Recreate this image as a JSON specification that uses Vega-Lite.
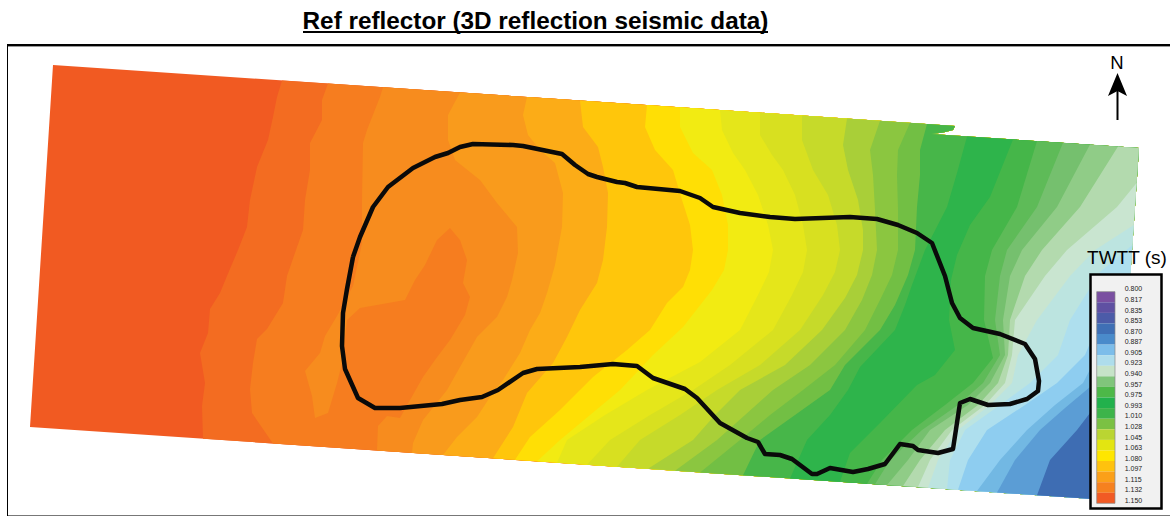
{"$schema":"https://vega.github.io/schema/vega-lite/v6.json","width":1170,"height":516,"padding":0,"autosize":{"type":"none"},"background":"white","config":{"view":{"stroke":null}},"projection":{"type":"identity","scale":1,"translate":[0,0]},"resolve":{"scale":{"color":"independent"}},"layer":[
{"data":{"values":[
{"type":"Feature","properties":{"band":"b00"},"geometry":{"type":"Polygon","coordinates":[[[53,65],[558,99],[955,126],[953,130],[943,132.5],[931,134],[1139,148],[1115,500.5],[30,427],[53,65]]]}},
{"type":"Feature","properties":{"band":"b01"},"geometry":{"type":"Polygon","coordinates":[[[282,80.4],[277,97],[273,117],[268,140],[257,167],[250,200],[247,227],[238,250],[227,276],[220,293],[210,309],[208,333],[200,353],[205,383],[202,406],[203,438.7],[1115,500.5],[1139,148],[931,134],[943,132.5],[953,130],[955,126],[558,99],[282,80.4]]]}},
{"type":"Feature","properties":{"band":"b02"},"geometry":{"type":"Polygon","coordinates":[[[328,83.5],[322,100],[322,120],[310,143],[310,170],[305,200],[303,230],[296,250],[287,276],[283,303],[267,329],[257,339],[253,363],[250,389],[252,413],[273,443.4],[1115,500.5],[1139,148],[931,134],[943,132.5],[953,130],[955,126],[558,99],[328,83.5]]]}},
{"type":"Feature","properties":{"band":"b03"},"geometry":{"type":"Polygon","coordinates":[[[383,87.2],[380,97],[367,130],[363,143],[362,200],[362,243],[353,286],[337,316],[325,336],[320,353],[305,371],[312,396],[315,418],[328,413],[337,383],[342,363],[347,320],[360,308],[405,300],[415,280],[425,265],[437,240],[450,228],[460,240],[467,260],[463,283],[470,297],[465,315],[450,340],[435,360],[423,377],[410,400],[400,418],[387,416],[378,426],[377,450.5],[1115,500.5],[1139,148],[931,134],[943,132.5],[953,130],[955,126],[558,99],[383,87.2]]]}},
{"type":"Feature","properties":{"band":"b04"},"geometry":{"type":"Polygon","coordinates":[[[460,92.4],[448,115],[448,140],[455,160],[480,180],[497,203],[517,227],[518,253],[512,280],[507,297],[497,317],[477,337],[460,367],[447,390],[423,420],[413,443],[412,452.9],[1115,500.5],[1139,148],[931,134],[943,132.5],[953,130],[955,126],[558,99],[460,92.4]]]}},
{"type":"Feature","properties":{"band":"b05"},"geometry":{"type":"Polygon","coordinates":[[[527,96.9],[523,115],[528,135],[540,150],[555,163],[563,193],[562,227],[555,265],[547,293],[540,313],[530,330],[520,353],[503,380],[490,397],[477,417],[457,437],[443,455],[1115,500.5],[1139,148],[931,134],[943,132.5],[953,130],[955,126],[558,99],[527,96.9]]]}},
{"type":"Feature","properties":{"band":"b06"},"geometry":{"type":"Polygon","coordinates":[[[580,100.5],[583,127],[598,147],[603,167],[608,193],[607,227],[603,260],[597,283],[580,310],[567,337],[553,363],[527,393],[513,427],[493,458.3],[1115,500.5],[1139,148],[931,134],[943,132.5],[953,130],[955,126],[580,100.5]]]}},
{"type":"Feature","properties":{"band":"b07"},"geometry":{"type":"Polygon","coordinates":[[[647,105],[645,127],[655,150],[673,170],[682,200],[690,225],[693,250],[690,270],[683,287],[667,303],[650,330],[627,350],[593,377],[580,390],[560,410],[530,437],[515,459.8],[1115,500.5],[1139,148],[931,134],[943,132.5],[953,130],[955,126],[647,105]]]}},
{"type":"Feature","properties":{"band":"b08"},"geometry":{"type":"Polygon","coordinates":[[[680,107.2],[680,127],[693,153],[712,170],[722,195],[728,225],[728,250],[724,270],[712,290],[683,327],[653,355],[620,390],[590,415],[560,440],[537,461.3],[1115,500.5],[1139,148],[931,134],[943,132.5],[953,130],[955,126],[680,107.2]]]}},
{"type":"Feature","properties":{"band":"b09"},"geometry":{"type":"Polygon","coordinates":[[[720,109.9],[722,130],[733,153],[745,170],[758,195],[768,225],[773,250],[769,272],[758,295],[740,330],[700,362],[647,390],[605,415],[567,440],[557,462.7],[1115,500.5],[1139,148],[931,134],[943,132.5],[953,130],[955,126],[720,109.9]]]}},
{"type":"Feature","properties":{"band":"b10"},"geometry":{"type":"Polygon","coordinates":[[[760,112.6],[760,135],[772,155],[783,170],[795,195],[803,225],[807,250],[803,272],[792,295],[773,330],[730,365],[693,390],[650,415],[610,440],[587,464.7],[1115,500.5],[1139,148],[931,134],[943,132.5],[953,130],[955,126],[760,112.6]]]}},
{"type":"Feature","properties":{"band":"b11"},"geometry":{"type":"Polygon","coordinates":[[[802,115.5],[802,140],[813,170],[828,195],[837,225],[840,250],[835,272],[823,295],[800,330],[760,365],[717,390],[680,415],[640,440],[617,466.7],[1115,500.5],[1139,148],[931,134],[943,132.5],[953,130],[955,126],[802,115.5]]]}},
{"type":"Feature","properties":{"band":"b12"},"geometry":{"type":"Polygon","coordinates":[[[847,118.5],[843,145],[848,170],[858,200],[863,230],[863,250],[857,275],[845,298],[822,330],[785,365],[740,390],[715,415],[693,440],[648,468.8],[1115,500.5],[1139,148],[931,134],[943,132.5],[953,130],[955,126],[847,118.5]]]}},
{"type":"Feature","properties":{"band":"b13"},"geometry":{"type":"Polygon","coordinates":[[[880,120.7],[870,150],[873,175],[875,210],[877,250],[872,275],[862,300],[845,330],[810,365],[773,390],[745,415],[717,440],[675,470.7],[1115,500.5],[1139,148],[931,134],[943,132.5],[953,130],[955,126],[880,120.7]]]}},
{"type":"Feature","properties":{"band":"b14"},"geometry":{"type":"Polygon","coordinates":[[[910,122.8],[898,150],[897,175],[898,210],[898,250],[892,275],[880,300],[865,330],[835,365],[803,390],[770,415],[740,440],[700,472.4],[1115,500.5],[1139,148],[931,134],[943,132.5],[953,130],[955,126],[910,122.8]]]}},
{"type":"Feature","properties":{"band":"b15"},"geometry":{"type":"Polygon","coordinates":[[[927,124],[920,150],[920,175],[917,207],[915,250],[908,275],[895,305],[880,330],[845,365],[830,390],[795,415],[760,440],[743,475.3],[1115,500.5],[1139,148],[931,134],[943,132.5],[953,130],[955,126],[927,124]]]}},
{"type":"Feature","properties":{"band":"b16"},"geometry":{"type":"Polygon","coordinates":[[[967,136.4],[957,173],[947,207],[925,250],[912,285],[905,305],[895,330],[860,367],[848,390],[830,415],[807,440],[790,478.5],[1115,500.5],[1139,148],[967,136.4]]]}},
{"type":"Feature","properties":{"band":"b17"},"geometry":{"type":"Polygon","coordinates":[[[1013,139.5],[990,197],[970,225],[957,255],[951,280],[949,320],[955,350],[935,375],[917,385],[880,423],[850,453],[840,481.8],[1115,500.5],[1139,148],[1013,139.5]]]}},
{"type":"Feature","properties":{"band":"b18"},"geometry":{"type":"Polygon","coordinates":[[[1037,141.1],[1017,207],[992,250],[985,276],[984,320],[993,358],[973,383],[945,405],[912,430],[882,460],[867,483.7],[1115,500.5],[1139,148],[1037,141.1]]]}},
{"type":"Feature","properties":{"band":"b19"},"geometry":{"type":"Polygon","coordinates":[[[1063,142.8],[1037,207],[1007,250],[1000,276],[995,320],[1000,355],[983,383],[958,405],[922,430],[890,460],[875,484.2],[1115,500.5],[1139,148],[1063,142.8]]]}},
{"type":"Feature","properties":{"band":"b20"},"geometry":{"type":"Polygon","coordinates":[[[1090,144.6],[1057,207],[1022,250],[1010,276],[1003,320],[1005,355],[990,383],[968,405],[930,430],[908,460],[887,485],[1115,500.5],[1139,148],[1090,144.6]]]}},
{"type":"Feature","properties":{"band":"b21"},"geometry":{"type":"Polygon","coordinates":[[[1118,146.5],[1080,207],[1042,250],[1025,276],[1010,320],[1008,355],[998,383],[978,405],[945,430],[920,460],[903,486.1],[1115,500.5],[1139,148],[1118,146.5]]]}},
{"type":"Feature","properties":{"band":"b22"},"geometry":{"type":"Polygon","coordinates":[[[1136.6,183],[1117,207],[1067,250],[1045,276],[1015,320],[1012,355],[1005,383],[985,405],[952,430],[930,460],[918,487.1],[1115,500.5],[1136.6,183]]]}},
{"type":"Feature","properties":{"band":"b23"},"geometry":{"type":"Polygon","coordinates":[[[1133.8,225],[1095,250],[1070,276],[1037,320],[1018,355],[1012,383],[990,405],[958,430],[938,460],[928,487.8],[1115,500.5],[1133.8,225]]]}},
{"type":"Feature","properties":{"band":"b24"},"geometry":{"type":"Polygon","coordinates":[[[1132.4,245],[1100,272],[1070,320],[1058,355],[1030,383],[1000,405],[965,430],[950,460],[947,489.1],[1115,500.5],[1132.4,245]]]}},
{"type":"Feature","properties":{"band":"b25"},"geometry":{"type":"Polygon","coordinates":[[[1128.6,300],[1100,320],[1085,355],[1057,383],[1025,405],[987,430],[968,460],[958,489.8],[1115,500.5],[1128.6,300]]]}},
{"type":"Feature","properties":{"band":"b26"},"geometry":{"type":"Polygon","coordinates":[[[1126.5,330],[1095,360],[1083,383],[1055,405],[1027,430],[1000,460],[977,491.1],[1115,500.5],[1126.5,330]]]}},
{"type":"Feature","properties":{"band":"b27"},"geometry":{"type":"Polygon","coordinates":[[[1124.5,360],[1090,387],[1065,408],[1040,430],[1015,460],[997,492.5],[1115,500.5],[1124.5,360]]]}},
{"type":"Feature","properties":{"band":"b28"},"geometry":{"type":"Polygon","coordinates":[[[1122,395],[1090,413],[1077,430],[1050,460],[1037,495.2],[1115,500.5],[1122,395]]]}}
]},"mark":{"type":"geoshape","strokeWidth":0},"encoding":{"color":{"field":"properties.band","type":"nominal","legend":null,"scale":{"domain":["b00","b01","b02","b03","b04","b05","b06","b07","b08","b09","b10","b11","b12","b13","b14","b15","b16","b17","b18","b19","b20","b21","b22","b23","b24","b25","b26","b27","b28"],"range":["#F15A22","#F36C21","#F67D1F","#F78C1E","#F99B1C","#FCAC17","#FFC60B","#FFDF05","#F2EB12","#E5E61A","#D8E020","#C6DA2A","#A9CF38","#8BC640","#72BF44","#47B649","#2EB44B","#45B649","#5EBB58","#75C06E","#90CC87","#B3DAAE","#C9E5D0","#BCE4E0","#AEDFEE","#8ECDF0","#72B8E3","#5B9DD5","#3E6DB3"]}}}},
{"data":{"values":[{"type":"Feature","properties":{"name":"outline"},"geometry":{"type":"LineString","coordinates":[[353,257],[347,289],[343,313],[342,346],[345,369],[358,398],[375,408],[400,408],[442,404],[460,400],[482,397],[498,390],[523,373],[537,369],[580,367],[613,364],[637,366],[653,378],[685,389],[697,398],[720,423],[747,438],[758,442],[765,454],[780,455],[792,459],[812,474],[817,474],[830,468],[853,472],[868,469],[885,464],[900,444],[913,446],[918,450],[938,453],[953,449],[960,403],[970,399],[988,405],[1010,404],[1027,399],[1038,391],[1039,381],[1035,359],[1025,344],[1000,334],[973,328],[960,318],[952,303],[945,276],[932,243],[917,233],[898,225],[877,219],[850,217],[795,219],[770,217],[740,213],[713,207],[700,198],[680,191],[637,187],[625,183],[617,182],[597,177],[588,174],[575,165],[562,154],[523,146],[513,145],[473,144],[460,147],[448,153],[435,157],[413,168],[388,187],[373,207],[360,237],[353,257]]}}]},"mark":{"type":"geoshape","filled":false,"stroke":"#0a0a0a","strokeWidth":4.5,"strokeJoin":"round"}},
{"data":{"values":[{"type":"Feature","properties":{"name":"rule shadow"},"geometry":{"type":"LineString","coordinates":[[8,46.5],[1170,46.5]]}}]},"mark":{"type":"geoshape","filled":false,"stroke":"#999999","strokeWidth":1}},
{"data":{"values":[{"type":"Feature","properties":{"name":"top rule"},"geometry":{"type":"LineString","coordinates":[[7,45],[1170,45]]}}]},"mark":{"type":"geoshape","filled":false,"stroke":"black","strokeWidth":2}},
{"data":{"values":[{"type":"Feature","properties":{"name":"frame bottom"},"geometry":{"type":"LineString","coordinates":[[8,515.5],[1170,515.5]]}}]},"mark":{"type":"geoshape","filled":false,"stroke":"#777777","strokeWidth":1}},
{"data":{"values":[{"type":"Feature","properties":{"name":"frame left"},"geometry":{"type":"LineString","coordinates":[[7.5,44],[7.5,516]]}}]},"mark":{"type":"geoshape","filled":false,"stroke":"black","strokeWidth":1}},
{"data":{"values":[{"type":"Feature","properties":{"name":"title underline"},"geometry":{"type":"LineString","coordinates":[[303,32],[768,32]]}}]},"mark":{"type":"geoshape","filled":false,"stroke":"black","strokeWidth":2}},
{"data":{"values":[{"label":"Ref reflector (3D reflection seismic data)","lon":535.5,"lat":29}]},"mark":{"type":"text","font":"Liberation Sans","fontWeight":"bold","fontSize":24.3,"align":"center","baseline":"alphabetic","color":"black"},"encoding":{"longitude":{"field":"lon","type":"quantitative"},"latitude":{"field":"lat","type":"quantitative"},"text":{"field":"label"}}},
{"data":{"values":[{"label":"N","lon":1117,"lat":68.5}]},"mark":{"type":"text","font":"Liberation Sans","fontSize":18.5,"align":"center","baseline":"alphabetic","color":"black"},"encoding":{"longitude":{"field":"lon","type":"quantitative"},"latitude":{"field":"lat","type":"quantitative"},"text":{"field":"label"}}},
{"data":{"values":[{"type":"Feature","properties":{"name":"arrow head"},"geometry":{"type":"Polygon","coordinates":[[[1117.5,73],[1108,96],[1117.5,91],[1127,96],[1117.5,73]]]}}]},"mark":{"type":"geoshape","fill":"black","strokeWidth":0}},
{"data":{"values":[{"type":"Feature","properties":{"name":"arrow shaft"},"geometry":{"type":"LineString","coordinates":[[1117.5,90],[1117.5,120]]}}]},"mark":{"type":"geoshape","filled":false,"stroke":"black","strokeWidth":2}},
{"data":{"values":[{"label":"TWTT (s)","lon":1127,"lat":263.5}]},"mark":{"type":"text","font":"Liberation Sans","fontSize":19,"align":"center","baseline":"alphabetic","color":"black"},"encoding":{"longitude":{"field":"lon","type":"quantitative"},"latitude":{"field":"lat","type":"quantitative"},"text":{"field":"label"}}},
{"data":{"values":[{"type":"Feature","properties":{"name":"legend box"},"geometry":{"type":"Polygon","coordinates":[[[1090.5,274.5],[1161.5,274.5],[1161.5,508.5],[1090.5,508.5],[1090.5,274.5]]]}}]},"mark":{"type":"geoshape","fill":"#F1F1F1","stroke":"black","strokeWidth":2.5}},
{"data":{"values":[
{"type":"Feature","properties":{"twtt":"0.800"},"geometry":{"type":"Polygon","coordinates":[[[1096.7,291.7],[1115,291.7],[1115,302.3],[1096.7,302.3],[1096.7,291.7]]]}},
{"type":"Feature","properties":{"twtt":"0.817"},"geometry":{"type":"Polygon","coordinates":[[[1096.7,302.3],[1115,302.3],[1115,312.9],[1096.7,312.9],[1096.7,302.3]]]}},
{"type":"Feature","properties":{"twtt":"0.835"},"geometry":{"type":"Polygon","coordinates":[[[1096.7,312.9],[1115,312.9],[1115,323.4],[1096.7,323.4],[1096.7,312.9]]]}},
{"type":"Feature","properties":{"twtt":"0.853"},"geometry":{"type":"Polygon","coordinates":[[[1096.7,323.4],[1115,323.4],[1115,334],[1096.7,334],[1096.7,323.4]]]}},
{"type":"Feature","properties":{"twtt":"0.870"},"geometry":{"type":"Polygon","coordinates":[[[1096.7,334],[1115,334],[1115,344.6],[1096.7,344.6],[1096.7,334]]]}},
{"type":"Feature","properties":{"twtt":"0.887"},"geometry":{"type":"Polygon","coordinates":[[[1096.7,344.6],[1115,344.6],[1115,355.2],[1096.7,355.2],[1096.7,344.6]]]}},
{"type":"Feature","properties":{"twtt":"0.905"},"geometry":{"type":"Polygon","coordinates":[[[1096.7,355.2],[1115,355.2],[1115,365.8],[1096.7,365.8],[1096.7,355.2]]]}},
{"type":"Feature","properties":{"twtt":"0.923"},"geometry":{"type":"Polygon","coordinates":[[[1096.7,365.8],[1115,365.8],[1115,376.4],[1096.7,376.4],[1096.7,365.8]]]}},
{"type":"Feature","properties":{"twtt":"0.940"},"geometry":{"type":"Polygon","coordinates":[[[1096.7,376.4],[1115,376.4],[1115,386.9],[1096.7,386.9],[1096.7,376.4]]]}},
{"type":"Feature","properties":{"twtt":"0.957"},"geometry":{"type":"Polygon","coordinates":[[[1096.7,386.9],[1115,386.9],[1115,397.5],[1096.7,397.5],[1096.7,386.9]]]}},
{"type":"Feature","properties":{"twtt":"0.975"},"geometry":{"type":"Polygon","coordinates":[[[1096.7,397.5],[1115,397.5],[1115,408.1],[1096.7,408.1],[1096.7,397.5]]]}},
{"type":"Feature","properties":{"twtt":"0.993"},"geometry":{"type":"Polygon","coordinates":[[[1096.7,408.1],[1115,408.1],[1115,418.7],[1096.7,418.7],[1096.7,408.1]]]}},
{"type":"Feature","properties":{"twtt":"1.010"},"geometry":{"type":"Polygon","coordinates":[[[1096.7,418.7],[1115,418.7],[1115,429.3],[1096.7,429.3],[1096.7,418.7]]]}},
{"type":"Feature","properties":{"twtt":"1.028"},"geometry":{"type":"Polygon","coordinates":[[[1096.7,429.3],[1115,429.3],[1115,439.9],[1096.7,439.9],[1096.7,429.3]]]}},
{"type":"Feature","properties":{"twtt":"1.045"},"geometry":{"type":"Polygon","coordinates":[[[1096.7,439.9],[1115,439.9],[1115,450.4],[1096.7,450.4],[1096.7,439.9]]]}},
{"type":"Feature","properties":{"twtt":"1.063"},"geometry":{"type":"Polygon","coordinates":[[[1096.7,450.4],[1115,450.4],[1115,461],[1096.7,461],[1096.7,450.4]]]}},
{"type":"Feature","properties":{"twtt":"1.080"},"geometry":{"type":"Polygon","coordinates":[[[1096.7,461],[1115,461],[1115,471.6],[1096.7,471.6],[1096.7,461]]]}},
{"type":"Feature","properties":{"twtt":"1.097"},"geometry":{"type":"Polygon","coordinates":[[[1096.7,471.6],[1115,471.6],[1115,482.2],[1096.7,482.2],[1096.7,471.6]]]}},
{"type":"Feature","properties":{"twtt":"1.115"},"geometry":{"type":"Polygon","coordinates":[[[1096.7,482.2],[1115,482.2],[1115,492.8],[1096.7,492.8],[1096.7,482.2]]]}},
{"type":"Feature","properties":{"twtt":"1.132"},"geometry":{"type":"Polygon","coordinates":[[[1096.7,492.8],[1115,492.8],[1115,503.3],[1096.7,503.3],[1096.7,492.8]]]}}
]},"mark":{"type":"geoshape","strokeWidth":0},"encoding":{"color":{"field":"properties.twtt","type":"nominal","legend":null,"scale":{"domain":["0.800","0.817","0.835","0.853","0.870","0.887","0.905","0.923","0.940","0.957","0.975","0.993","1.010","1.028","1.045","1.063","1.080","1.097","1.115","1.132"],"range":["#7A4FA1","#5F50A2","#4C5BA8","#3F6FB5","#4A8BCB","#7CBDEA","#AEDDEC","#C6E3C8","#80C57B","#4DB848","#22B14C","#3DB44A","#7BC143","#BAD532","#E3E511","#FFE600","#FFC20E","#FBA019","#F6811F","#F15A24"]}}}},
{"data":{"values":[{"type":"Feature","properties":{"name":"colour bar edge"},"geometry":{"type":"Polygon","coordinates":[[[1096.7,291.7],[1115,291.7],[1115,503.3],[1096.7,503.3],[1096.7,291.7]]]}}]},"mark":{"type":"geoshape","filled":false,"stroke":"#888888","strokeWidth":0.7}},
{"data":{"values":[{"t":"0.800","lon":1124.7,"lat":289.3},{"t":"0.817","lon":1124.7,"lat":299.9},{"t":"0.835","lon":1124.7,"lat":310.5},{"t":"0.853","lon":1124.7,"lat":321},{"t":"0.870","lon":1124.7,"lat":331.6},{"t":"0.887","lon":1124.7,"lat":342.2},{"t":"0.905","lon":1124.7,"lat":352.8},{"t":"0.923","lon":1124.7,"lat":363.4},{"t":"0.940","lon":1124.7,"lat":374},{"t":"0.957","lon":1124.7,"lat":384.5},{"t":"0.975","lon":1124.7,"lat":395.1},{"t":"0.993","lon":1124.7,"lat":405.7},{"t":"1.010","lon":1124.7,"lat":416.3},{"t":"1.028","lon":1124.7,"lat":426.9},{"t":"1.045","lon":1124.7,"lat":437.5},{"t":"1.063","lon":1124.7,"lat":448},{"t":"1.080","lon":1124.7,"lat":458.6},{"t":"1.097","lon":1124.7,"lat":469.2},{"t":"1.115","lon":1124.7,"lat":479.8},{"t":"1.132","lon":1124.7,"lat":490.4},{"t":"1.150","lon":1124.7,"lat":501}]},"mark":{"type":"text","font":"Liberation Sans","fontSize":7,"align":"left","baseline":"middle","color":"#222222"},"encoding":{"longitude":{"field":"lon","type":"quantitative"},"latitude":{"field":"lat","type":"quantitative"},"text":{"field":"t"}}}
]}
